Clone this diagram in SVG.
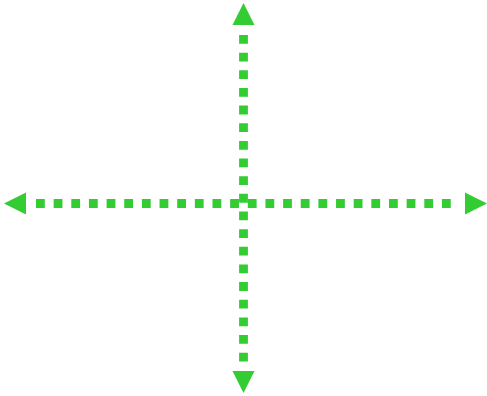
<svg xmlns="http://www.w3.org/2000/svg" width="487" height="396" viewBox="0 0 487 396">
  <style>
    .axis { stroke: #33cc33; stroke-width: 8.8; stroke-dasharray: 8.8 8.85; fill: none; }
    .head { fill: #33cc33; stroke: none; }
  </style>
  <rect width="487" height="396" fill="#ffffff"/>
  <g id="connectors">
    <path class="axis" d="M36,203.5 H451"/>
    <path class="axis" d="M243.5,35 V362"/>
    <polygon class="head" points="4,203.5 26,192.5 26,214.5"/>
    <polygon class="head" points="487,203.5 465,192.5 465,214.5"/>
    <polygon class="head" points="243.5,3 232.5,25 254.5,25"/>
    <polygon class="head" points="243.5,393 232.5,371 254.5,371"/>
  </g>
</svg>
